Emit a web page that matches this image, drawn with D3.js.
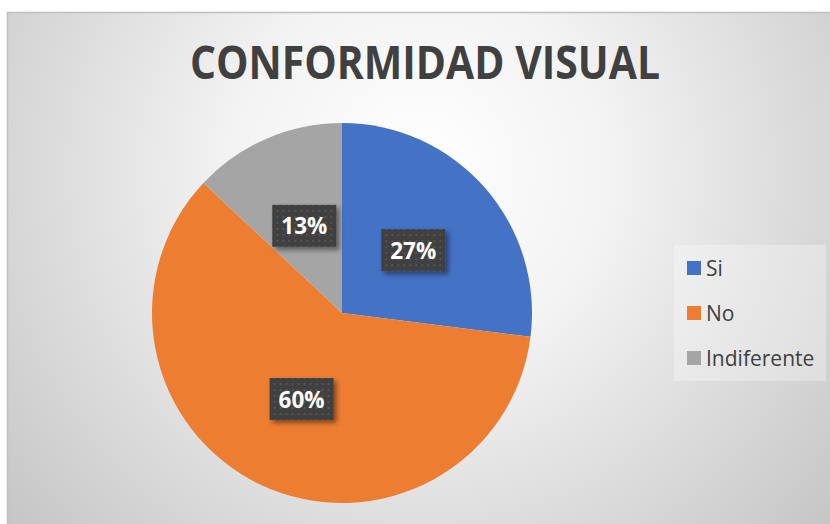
<!DOCTYPE html>
<html>
<head>
<meta charset="utf-8">
<script src="https://cdn.jsdelivr.net/npm/d3@7"></script>
<style>
  body { margin: 0; background: #fff; }
  svg { display: block; }
</style>
</head>
<body>
<div id="grafico"></div>
<script>
// datos del gráfico
const categorias = ["Si", "No", "Indiferente"];
const valores = [27, 60, 13];
const colores = ["#4472C4", "#ED7D31", "#A5A5A5"];
const titulo = "CONFORMIDAD VISUAL";

const width = 830;
const height = 524;

const svg = d3.select("#grafico")
  .append("svg")
  .attr("width", width)
  .attr("height", height);

const defs = svg.append("defs");

// fondo con degradado radial
const grad = defs.append("radialGradient")
  .attr("id", "fondo")
  .attr("gradientUnits", "userSpaceOnUse")
  .attr("cx", 420).attr("cy", 170).attr("r", 540);
grad.append("stop").attr("offset", "0%").attr("stop-color", "#ffffff");
grad.append("stop").attr("offset", "35%").attr("stop-color", "#f3f3f3");
grad.append("stop").attr("offset", "100%").attr("stop-color", "#c6c6c6");

// patrón de puntos para las etiquetas
const pat = defs.append("pattern")
  .attr("id", "puntos")
  .attr("width", 6).attr("height", 6)
  .attr("patternUnits", "userSpaceOnUse");
pat.append("rect").attr("width", 6).attr("height", 6).attr("fill", "#3f3f3f");
pat.append("rect").attr("x", 2).attr("y", 2).attr("width", 2).attr("height", 2).attr("fill", "#555555");

const sombra = defs.append("filter")
  .attr("id", "sombra")
  .attr("x", "-30%").attr("y", "-30%").attr("width", "160%").attr("height", "160%");
sombra.append("feDropShadow")
  .attr("dx", 3).attr("dy", 3).attr("stdDeviation", 2.5)
  .attr("flood-color", "#000").attr("flood-opacity", 0.45);

svg.append("rect")
  .attr("x", 7.5).attr("y", 12.5)
  .attr("width", width).attr("height", height)
  .attr("fill", "url(#fondo)")
  .attr("stroke", "#bfbfbf")
  .attr("stroke-width", 1.5);

// título
svg.append("text")
  .attr("x", 425)
  .attr("y", 79)
  .attr("text-anchor", "middle")
  .style("font-family", "'Open Sans', sans-serif")
  .style("font-weight", "bold")
  .style("font-size", "46px")
  .attr("fill", "#404040")
  .attr("textLength", 470)
  .attr("lengthAdjust", "spacingAndGlyphs")
  .text(titulo);

// === PASTEL ===
const cx = 342, cy = 313, radio = 190;

const pie = d3.pie().sort(null).value(d => d);
const arcos = pie(valores);
const arc = d3.arc().innerRadius(0).outerRadius(radio);
const arcEtiqueta = d3.arc().innerRadius(radio / 2).outerRadius(radio / 2);
const color = d3.scaleOrdinal().domain(categorias).range(colores);

const gPie = svg.append("g").attr("transform", `translate(${cx},${cy})`);

gPie.selectAll("path")
  .data(arcos)
  .join("path")
  .attr("d", arc)
  .attr("fill", (d, i) => color(categorias[i]));

const total = d3.sum(valores);
const etiquetas = gPie.selectAll("g.etiqueta")
  .data(arcos)
  .join("g")
  .attr("class", "etiqueta")
  .attr("transform", d => `translate(${arcEtiqueta.centroid(d)})`);

etiquetas.append("rect")
  .attr("x", -32).attr("y", -21)
  .attr("width", 64).attr("height", 42)
  .attr("fill", "url(#puntos)")
  .attr("filter", "url(#sombra)");

etiquetas.append("text")
  .attr("text-anchor", "middle")
  .attr("dy", "0.36em")
  .style("font-family", "'Open Sans', sans-serif")
  .style("font-weight", "bold")
  .style("font-size", "24px")
  .attr("fill", "#ffffff")
  .attr("textLength", 46)
  .attr("lengthAdjust", "spacingAndGlyphs")
  .text(d => Math.round(d.value / total * 100) + "%");

// === LEYENDA ===
const leyenda = svg.append("g").attr("transform", "translate(674,245)");
leyenda.append("rect")
  .attr("width", 152).attr("height", 136)
  .attr("fill", "#ffffff")
  .attr("fill-opacity", 0.3);

categorias.forEach((c, i) => {
  leyenda.append("rect")
    .attr("x", 13).attr("y", 16 + i * 45)
    .attr("width", 14).attr("height", 14)
    .attr("fill", color(c));
  leyenda.append("text")
    .attr("x", 32).attr("y", 30.5 + i * 45)
    .style("font-family", "'Open Sans', sans-serif")
    .style("font-size", "21px")
    .attr("fill", "#404040")
    .text(c);
});
</script>
</body>
</html>
